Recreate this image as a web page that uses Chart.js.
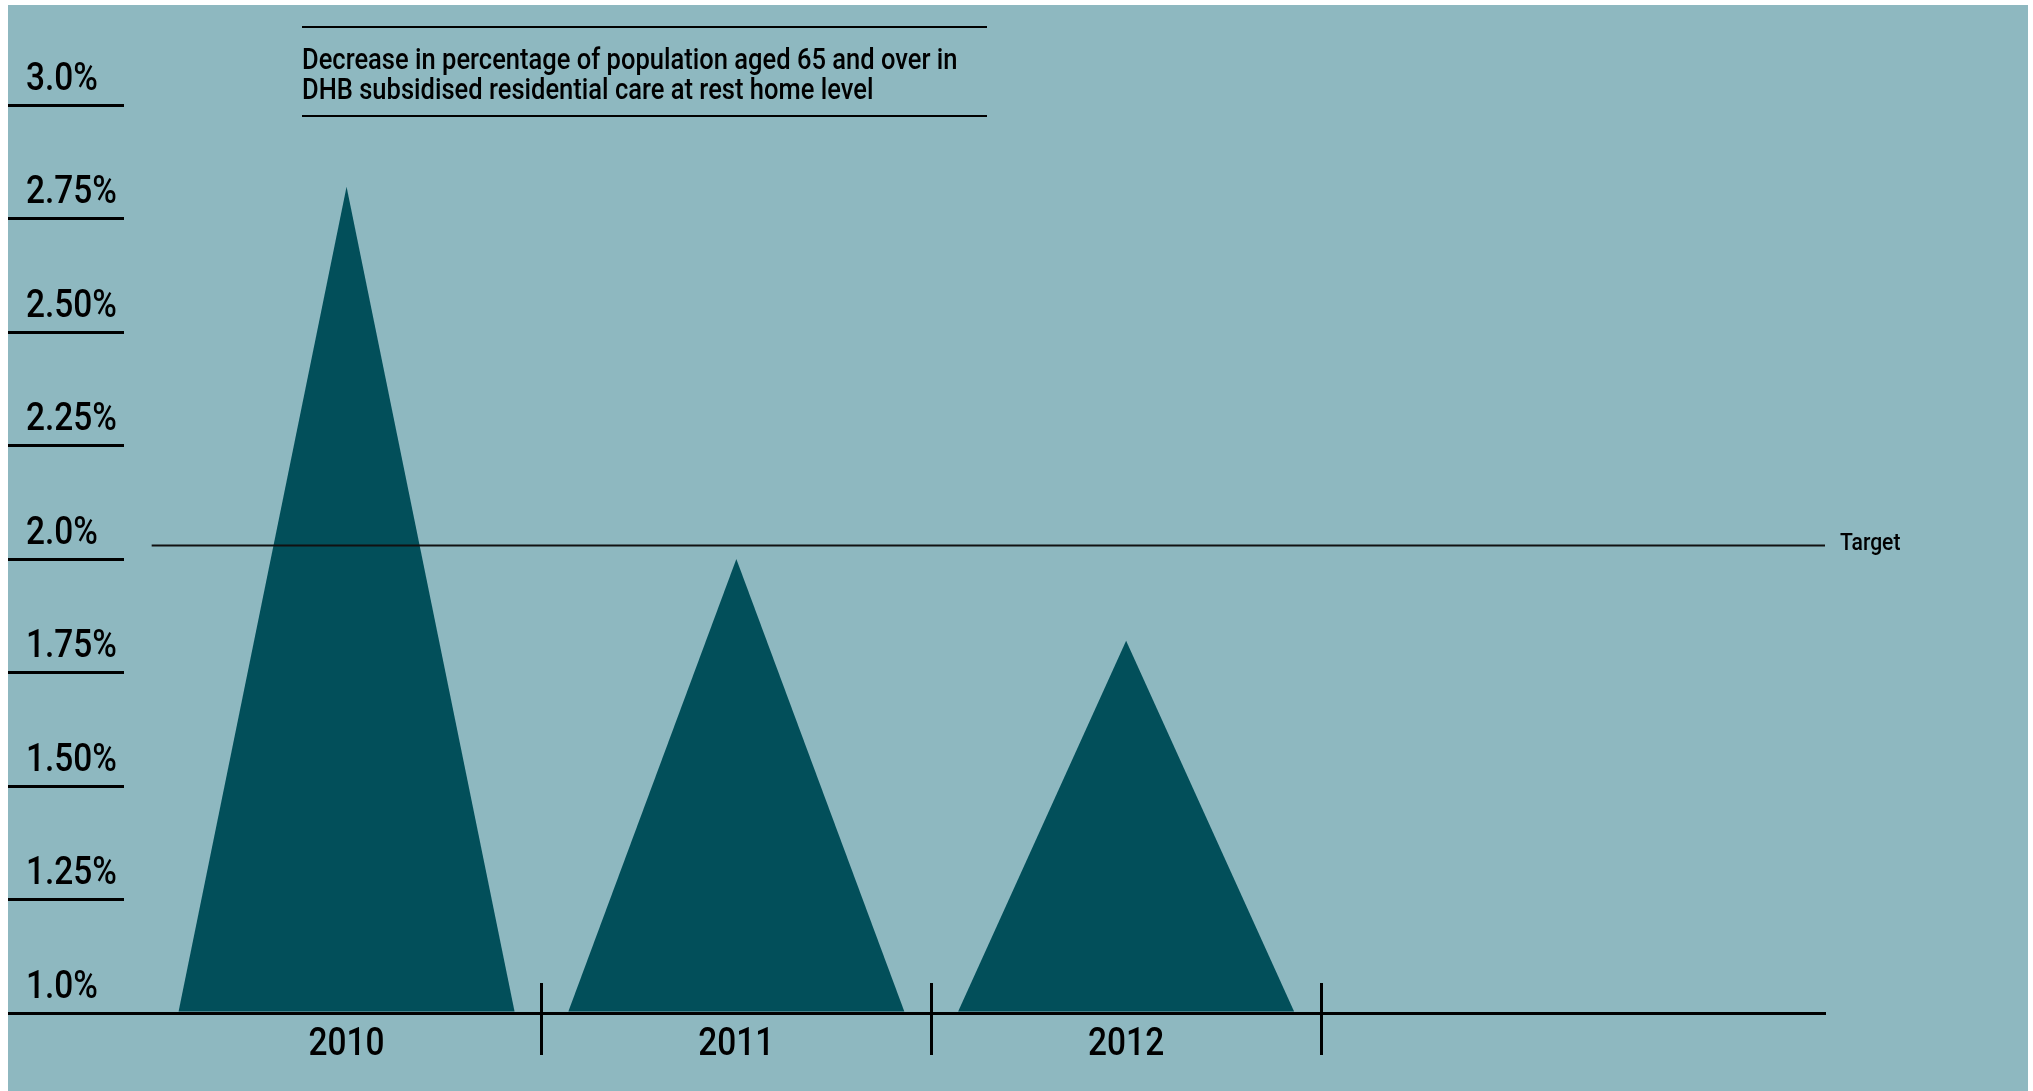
<!DOCTYPE html>
<html>
<head>
<meta charset="utf-8">
<script src="https://cdn.jsdelivr.net/npm/chart.js@4/dist/chart.umd.min.js"></script>
<style>
  html, body { margin: 0; padding: 0; background: #ffffff; width: 2033px; height: 1091px; overflow: hidden; }
  #panel { position: absolute; left: 8px; top: 5px; width: 2020px; height: 1086px; background: #8EB8C0; }
  #wrap { position: absolute; left: 0; top: 0; width: 2033px; height: 1091px; }
</style>
</head>
<body>
<div id="panel"></div>
<div id="wrap"><canvas id="c" width="2033" height="1091"></canvas></div>
<script>
// ---- data ----
const years = ['2010', '2011', '2012'];
const decrease = [2.82, 2.00, 1.82];
const target = 2.03;
const yTickValues = [1.0, 1.25, 1.5, 1.75, 2.0, 2.25, 2.5, 2.75, 3.0];
const yTickLabels = ['1.0%', '1.25%', '1.50%', '1.75%', '2.0%', '2.25%', '2.50%', '2.75%', '3.0%'];
const titleLines = ['Decrease in percentage of population aged 65 and over in',
                    'DHB subsidised residential care at rest home level'];
const targetLabel = 'Target';

// ---- style ----
const FONT = "Roboto, 'Liberation Sans', Arial, sans-serif";
const WEIGHT = 500;
const NARROW = 0.88;           // horizontal text compression (condensed face look)
const TEAL = '#024F5A';
const INK = '#000000';
const yMin = 1.0, yMax = 3.0;
const xMin = -0.571, xMax = 3.793;

const canvas = document.getElementById('c');
const ctx0 = canvas.getContext('2d');
const nativeFill = ctx0.fillText.bind(ctx0);
ctx0.fillText = function (text, x, y, maxWidth) {
  this.save();
  this.translate(x, y);
  this.scale(NARROW, 1);
  if (maxWidth === undefined || maxWidth === null) nativeFill(text, 0, 0);
  else nativeFill(text, 0, 0, maxWidth / NARROW);
  this.restore();
};

const trianglePlugin = {
  id: 'triangles',
  beforeDatasetDraw(chart, args) {
    const meta = args.meta;
    if (meta.type !== 'bar') return;
    const ctx = chart.ctx;
    ctx.save();
    ctx.fillStyle = chart.data.datasets[args.index].backgroundColor;
    meta.data.forEach(el => {
      const p = el.getProps(['x', 'y', 'base', 'width'], true);
      ctx.beginPath();
      ctx.moveTo(p.x - p.width / 2, p.base);
      ctx.lineTo(p.x, p.y);
      ctx.lineTo(p.x + p.width / 2, p.base);
      ctx.closePath();
      ctx.fill();
    });
    ctx.restore();
    return false;
  }
};

const decorPlugin = {
  id: 'decor',
  afterDraw(chart) {
    const ctx = chart.ctx;
    const xs = chart.scales.x, ys = chart.scales.y;
    const ca = chart.chartArea;
    ctx.save();
    // category separators crossing the baseline
    ctx.strokeStyle = INK;
    ctx.lineWidth = 3;
    years.forEach((_, i) => {
      const px = Math.round(xs.getPixelForValue(i + 0.5)) + 0.5;
      ctx.beginPath();
      ctx.moveTo(px, ca.bottom - 30);
      ctx.lineTo(px, ca.bottom + 42);
      ctx.stroke();
    });
    // target label
    ctx.fillStyle = INK;
    ctx.font = WEIGHT + ' 24px ' + FONT;
    ctx.textAlign = 'left';
    ctx.textBaseline = 'middle';
    ctx.fillText(targetLabel, ca.right + 15, ys.getPixelForValue(target) - 1);
    // title block with rules
    ctx.lineWidth = 2;
    ctx.beginPath(); ctx.moveTo(302, 27); ctx.lineTo(987, 27); ctx.stroke();
    ctx.beginPath(); ctx.moveTo(302, 116); ctx.lineTo(987, 116); ctx.stroke();
    ctx.font = WEIGHT + ' 29px ' + FONT;
    ctx.textBaseline = 'alphabetic';
    ctx.fillText(titleLines[0], 302, 68.5);
    ctx.fillText(titleLines[1], 302, 99);
    ctx.restore();
  }
};

new Chart(canvas, {
  type: 'bar',
  data: {
    datasets: [
      {
        type: 'line',
        label: 'Target',
        data: [{ x: -0.5, y: target }, { x: xMax, y: target }],
        borderColor: '#111111',
        borderWidth: 2,
        pointRadius: 0,
        fill: false,
        order: 0
      },
      {
        type: 'bar',
        label: 'Decrease',
        data: years.map((y, i) => ({ x: i, y: decrease[i] })),
        backgroundColor: TEAL,
        base: yMin,
        barPercentage: 0.862,
        categoryPercentage: 1,
        order: 1
      }
    ]
  },
  options: {
    responsive: false,
    animation: false,
    devicePixelRatio: 1,
    layout: { padding: { left: 8, top: 105, right: 208, bottom: 0 } },
    plugins: { legend: { display: false }, tooltip: { enabled: false }, title: { display: false } },
    scales: {
      x: {
        type: 'linear',
        min: xMin,
        max: xMax,
        offset: false,
        afterBuildTicks: s => { s.ticks = years.map((_, i) => ({ value: i })); },
        afterFit: s => { s.height = 78; },
        grid: { display: false, drawTicks: false },
        border: { display: true, color: INK, width: 3, z: 1 },
        ticks: {
          callback: v => years[Math.round(v)],
          autoSkip: false,
          maxRotation: 0,
          padding: 10,
          color: INK,
          font: { family: FONT, size: 38, weight: WEIGHT }
        }
      },
      y: {
        type: 'linear',
        min: yMin,
        max: yMax,
        beginAtZero: false,
        afterBuildTicks: s => { s.ticks = yTickValues.map(v => ({ value: v })); },
        afterFit: s => { s.width = 116; },
        grid: { drawOnChartArea: false, drawTicks: true, tickLength: 116, color: INK, lineWidth: 3 },
        border: { display: false },
        ticks: {
          callback: (v, i) => yTickLabels[i],
          mirror: true,
          crossAlign: 'near',
          padding: -98,
          labelOffset: -25,
          color: INK,
          font: { family: FONT, size: 38, weight: WEIGHT }
        }
      }
    }
  },
  plugins: [trianglePlugin, decorPlugin]
});
</script>
</body>
</html>
